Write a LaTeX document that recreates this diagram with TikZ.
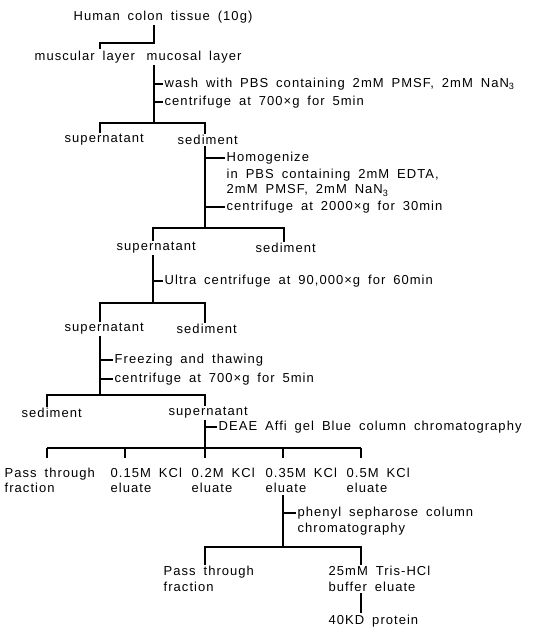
\documentclass[tikz,border=0pt]{standalone}
\usepackage{fontspec}
\setmainfont{Liberation Sans}[LetterSpace=8,WordSpace=1.7]

\begin{document}
\begin{tikzpicture}[x=1pt,y=-1pt,font=\fontsize{13}{15.5}\selectfont,
  txt/.style={anchor=west,inner sep=1.5pt},
  two/.style={anchor=west,inner sep=1.5pt,align=left},
  ln/.style={line width=1.3pt}]
\path[use as bounding box] (0,0) rectangle (536,627);
% tissue
\node[txt] (tissue) at (72,17) {Human colon tissue (10g)};
\node[txt] (musc) at (33,57) {muscular layer};
\node[txt] (muco) at (145,57) {mucosal layer};
\coordinate (b1) at (154,43);\coordinate (b1l) at (100,43);
\draw[ln] (tissue.south -| b1) -- (b1) -- (b1l) -- (b1l |- musc.north);
% wash
\node[txt] (wash) at (163,84) {wash with PBS containing 2mM PMSF, 2mM NaN\textsubscript{3}};
\node[txt] (cfa) at (163,102) {centrifuge at 700×g for 5min};
\node[txt] (supa) at (63,140) {supernatant};
\node[txt] (seda) at (176,140) {sediment};
\coordinate (b2) at (154,123);\coordinate (b2l) at (100,123);\coordinate (b2r) at (205,123);
\draw[ln] (muco.south -| b2) -- (b2);
\draw[ln] (b2l |- supa.north) -- (b2l) -- (b2r) -- (b2r |- seda.north);
\draw[ln] (wash.west -| b2) -- (wash.west) (cfa.west -| b2) -- (cfa.west);
% homogenize
\node[txt] (homo) at (225,158) {Homogenize};
\node[txt] (homoa) at (225,175) {in PBS containing 2mM EDTA,};
\node[txt] (homob) at (225,190.5) {2mM PMSF, 2mM NaN\textsubscript{3}};
\node[txt] (cfb) at (225,207) {centrifuge at 2000×g for 30min};
\node[txt] (supb) at (115,248) {supernatant};
\node[txt] (sedb) at (254,248) {sediment};
\coordinate (b3) at (205,228);\coordinate (b3l) at (153,228);\coordinate (b3r) at (284,228);
\draw[ln] (seda.south -| b3) -- (b3);
\draw[ln] (b3l |- supb.north) -- (b3l) -- (b3r) -- (b3r |- sedb.north);
\draw[ln] (homo.west -| b3) -- (homo.west) (cfb.west -| b3) -- (cfb.west);
% ultra
\node[txt] (ultra) at (163,281) {Ultra centrifuge at 90,000×g for 60min};
\node[txt] (supc) at (63,329) {supernatant};
\node[txt] (sedc) at (175,329) {sediment};
\coordinate (b4) at (153,303);\coordinate (b4l) at (100,303);\coordinate (b4r) at (205,303);
\draw[ln] (supb.south -| b4) -- (b4);
\draw[ln] (b4l |- supc.north) -- (b4l) -- (b4r) -- (b4r |- sedc.north);
\draw[ln] (ultra.west -| b4) -- (ultra.west);
% freezing
\node[txt] (frz) at (113,360) {Freezing and thawing};
\node[txt] (cfc) at (113,379) {centrifuge at 700×g for 5min};
\node[txt] (sedd) at (20,413) {sediment};
\node[txt] (supd) at (167,413) {supernatant};
\coordinate (b5) at (100,395);\coordinate (b5l) at (47,395);\coordinate (b5r) at (205,395);
\draw[ln] (supc.south -| b5) -- (b5);
\draw[ln] (b5l |- sedd.north) -- (b5l) -- (b5r) -- (b5r |- supd.north);
\draw[ln] (frz.west -| b5) -- (frz.west) (cfc.west -| b5) -- (cfc.west);
% DEAE
\node[txt] (deae) at (217,427) {DEAE Affi gel Blue column chromatography};
\node[two] (fra) at (3,480.5) {Pass through\\fraction};
\node[two] (fr15) at (109,480.5) {0.15M KCl\\eluate};
\node[two] (fr20) at (190,480.5) {0.2M KCl\\eluate};
\node[two] (fr35) at (264,480.5) {0.35M KCl\\eluate};
\node[two] (fr50) at (345,480.5) {0.5M KCl\\eluate};
\coordinate (b6) at (205,448);
\draw[ln] (supd.south -| b6) -- (b6);
\draw[ln] (47,448) -- (361,448);
\foreach \x in {47,125,205,283,361}{\draw[ln] (\x,448) -- (\x,458);}
\draw[ln] (deae.west -| b6) -- (deae.west);
% phenyl
\node[two] (phen) at (296,521) {phenyl sepharose column\\chromatography};
\node[two] (frb) at (162,579) {Pass through\\fraction};
\node[two] (tris) at (327,579) {25mM Tris-HCl\\buffer eluate};
\node[txt] (prot) at (327,621) {40KD protein};
\coordinate (b7) at (283,547);\coordinate (b7l) at (205,547);\coordinate (b7r) at (361,547);
\coordinate (t7) at (283,513);
\draw[ln] (fr35.south -| b7) -- (b7);
\draw[ln] (b7l |- frb.north) -- (b7l) -- (b7r) -- (b7r |- tris.north);
\draw[ln] (t7) -- (t7 -| phen.west);
\draw[ln] (tris.south -| b7r) -- (prot.north -| b7r);
\end{tikzpicture}
\end{document}
